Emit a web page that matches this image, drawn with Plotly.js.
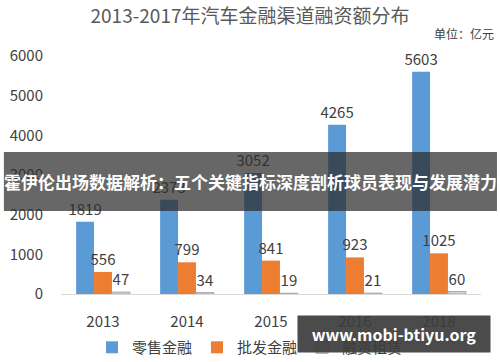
<!DOCTYPE html>
<html><head><meta charset="utf-8">
<script src="https://cdn.plot.ly/plotly-3.0.1.min.js"></script>
<style>html,body{margin:0;padding:0;background:#fff}#c{width:500px;height:362px}</style>
</head><body><div id="c"></div>
<script>
const years = ['2013', '2014', '2015', '2016', '2018'];
const retail = [1819, 2373, 3052, 4265, 5603];
const wholesale = [556, 799, 841, 923, 1025];
const leasing = [47, 34, 19, 21, 60];
const seriesNames = ['零售金融', '批发金融', '融资租赁'];
const titleText = '2013-2017年汽车金融渠道融资额分布';
const unitText = '单位：亿元';
const bannerText = '霍伊伦出场数据解析：五个关键指标深度剖析球员表现与发展潜力';
const watermarkText = 'www.mobi-btiyu.org';

const F = '"Noto Sans CJK SC", "Noto Sans", sans-serif';
const labelFont = {family: F, size: 15, color: '#404040'};
function bar(name, y, color){
  return {type:'bar', name:name, x:years, y:y, marker:{color:color},
    text:y.map(String), textposition:'outside', textfont:labelFont, cliponaxis:false,
    constraintext:'none', textangle:0};
}
const data = [
  bar(seriesNames[0], retail, '#5B9BD5'),
  bar(seriesNames[1], wholesale, '#ED7D31'),
  bar(seriesNames[2], leasing, '#404040')
];
data[2].marker = {color:'#D9D9D9', line:{color:'#A6A6A6', width:1}};
const layout = {
  width:500, height:362,
  margin:{l:61, r:19, t:56, b:68, autoexpand:false},
  paper_bgcolor:'#fff', plot_bgcolor:'#fff',
  font:{family:F, color:'#404040'},
  barmode:'group', bargap:0.36, bargroupgap:0,
  title:{text:titleText, x:0.5, xanchor:'center', y:0.955, yanchor:'middle',
    font:{family:F, size:19, color:'#595959'}},
  xaxis:{type:'category', showgrid:false, showline:true, linecolor:'#D9D9D9', linewidth:1,
    ticks:'outside', ticklen:14, tickcolor:'rgba(0,0,0,0)', automargin:false,
    tickfont:{family:F, size:15, color:'#404040'}},
  yaxis:{range:[0,6000], dtick:1000, showgrid:false, zeroline:false, showline:false,
    ticks:'outside', ticklen:14, tickcolor:'rgba(0,0,0,0)', automargin:false,
    tickfont:{family:F, size:15, color:'#404040'}},
  showlegend:true,
  legend:{orientation:'h', x:0.45, xanchor:'center', y:-0.225, yanchor:'middle',
    font:{family:F, size:15, color:'#404040'}, itemwidth:30, tracegroupgap:0},
  shapes:[
    {type:'rect', xref:'paper', yref:'paper', x0:-0.136, x1:1.038, y0:0.349, y1:0.597,
     fillcolor:'rgba(45,45,45,0.72)', line:{width:0}, layer:'above'}
  ],
  annotations:[
    {text:unitText, xref:'paper', yref:'paper', x:1.035, y:1.095, xanchor:'right', yanchor:'middle',
     showarrow:false, font:{family:F, size:12, color:'#404040'}},
    {text:'<b>'+bannerText+'</b>', xref:'paper', yref:'paper', x:0.45, y:0.473, xanchor:'center', yanchor:'middle',
     showarrow:false, font:{family:F, size:17, color:'#ffffff'}},
    {text:'<b>'+watermarkText+'</b>', xref:'paper', yref:'paper', x:0.793, y:-0.168, xanchor:'center', yanchor:'middle',
     showarrow:false, font:{family:F, size:16, color:'#ffffff'}, bgcolor:'rgba(60,60,60,0.92)',
     width:190, height:34}
  ]
};
Plotly.newPlot('c', data, layout, {displayModeBar:false, staticPlot:true});
</script></body></html>
